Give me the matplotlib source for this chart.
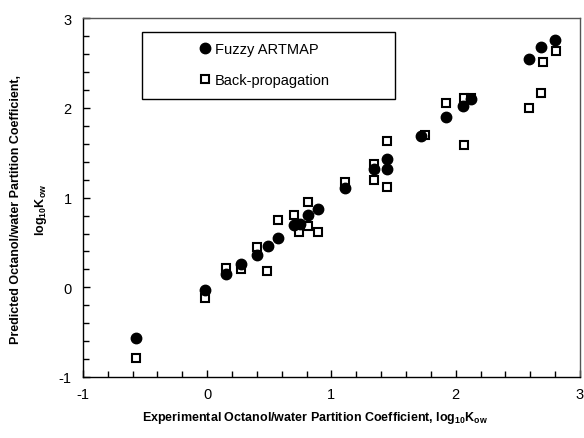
import matplotlib.pyplot as plt
from matplotlib.patches import Rectangle
from matplotlib.ticker import MultipleLocator

plt.rcParams['font.family'] = ['Liberation Sans', 'DejaVu Sans']
plt.rcParams['axes.unicode_minus'] = False
plt.rcParams['mathtext.fontset'] = 'custom'
plt.rcParams['mathtext.rm'] = 'Liberation Sans'
plt.rcParams['mathtext.bf'] = 'Liberation Sans:bold'

# Fuzzy ARTMAP predictions
fuzzy_x = [-0.57, -0.02, 0.15, 0.27, 0.40, 0.49, 0.57, 0.70, 0.745, 0.81, 0.89,
           1.11, 1.34, 1.45, 1.45, 1.72, 1.92, 2.06, 2.12, 2.59, 2.69, 2.80]
fuzzy_y = [-0.56, -0.03, 0.15, 0.26, 0.36, 0.46, 0.55, 0.70, 0.71, 0.81, 0.87,
           1.11, 1.32, 1.43, 1.32, 1.69, 1.90, 2.02, 2.10, 2.55, 2.68, 2.76]

# Back-propagation predictions
bp_x = [-0.57, -0.02, 0.15, 0.27, 0.40, 0.48, 0.57, 0.70, 0.74, 0.81, 0.81, 0.89,
        1.11, 1.34, 1.34, 1.45, 1.45, 1.75, 1.92, 2.07, 2.07, 2.12, 2.59, 2.69,
        2.70, 2.81]
bp_y = [-0.79, -0.12, 0.21, 0.20, 0.45, 0.18, 0.755, 0.81, 0.62, 0.95, 0.68, 0.62,
        1.17, 1.38, 1.20, 1.63, 1.12, 1.70, 2.06, 2.11, 1.59, 2.11, 2.00, 2.17,
        2.51, 2.63]

fig = plt.figure(figsize=(5.84, 4.39), dpi=100)
ax = fig.add_axes([0.142, 0.139, 0.851, 0.817])

ax.plot(bp_x, bp_y, 's', ms=6.3, mfc='white', mec='black', mew=1.5,
        label='Back-propagation', zorder=3)
ax.plot(fuzzy_x, fuzzy_y, 'o', ms=7.5, mfc='black', mec='black',
        label='Fuzzy ARTMAP', zorder=4)

ax.set_xlim(-1, 3)
ax.set_ylim(-1, 3)
ax.xaxis.set_major_locator(MultipleLocator(1))
ax.yaxis.set_major_locator(MultipleLocator(1))
ax.xaxis.set_minor_locator(MultipleLocator(0.2))
ax.yaxis.set_minor_locator(MultipleLocator(0.2))
ax.tick_params(which='both', direction='in', top=False, right=False,
               labelsize=10.5, width=1)
ax.tick_params(which='major', length=5)
ax.tick_params(which='minor', length=4)
ax.tick_params(axis='x', which='major', pad=7)
ax.tick_params(axis='y', which='major', pad=8)
for s in ax.spines.values():
    s.set_linewidth(1)
ax.spines['top'].set_color('#555555')
ax.spines['right'].set_color('#555555')

ax.set_xlabel(r'Experimental Octanol/water Partition Coefficient, $\mathbf{log_{10}K_{ow}}$',
              fontsize=9, fontweight='bold', va='top')
ax.xaxis.set_label_coords(0.467, -0.09)
ax.set_ylabel('Predicted Octanol/water Partition Coefficient,\n'
              r'$\mathbf{log_{10}K_{ow}}$',
              fontsize=9, fontweight='bold', linespacing=2.0)
ax.yaxis.set_label_coords(-0.068, 0.469)

# legend box
ax.add_patch(Rectangle((0.119, 0.775), 0.509, 0.188, transform=ax.transAxes,
                       fill=False, edgecolor='black', lw=1, zorder=5))
h, l = ax.get_legend_handles_labels()
ax.legend(h[::-1], l[::-1], loc='upper left', bbox_to_anchor=(0.232, 0.935),
          frameon=False, fontsize=10.5, handlelength=0.9, handletextpad=0.25,
          labelspacing=1.2, borderpad=0, borderaxespad=0, numpoints=1)

fig.savefig('out.png', dpi=100)
